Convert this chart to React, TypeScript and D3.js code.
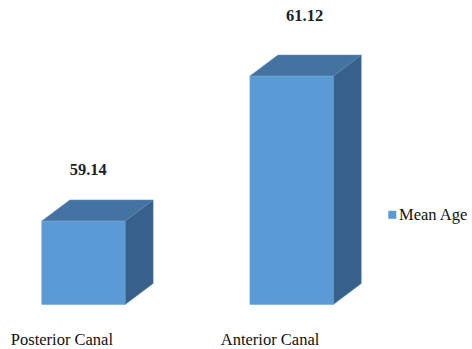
import React from "react";
import * as d3 from "d3";

const categories = ["Posterior Canal", "Anterior Canal"];
const meanAge = [59.14, 61.12];
const seriesName = "Mean Age";

const W = 472;
const H = 349;
const DEPTH_X = 28;
const DEPTH_Y = 21;

export default function App() {
  const x = d3
    .scaleBand<string>()
    .domain(categories)
    .range([21, 354])
    .paddingInner(0.6)
    .paddingOuter(0.1);

  // value axis starts at 58, as in the original 3D column chart
  const y = d3.scaleLinear().domain([58, 62]).range([304.5, 11.7]);

  const front = "#5B9BD5";
  const top = "#4473A2";
  const side = "#37618A";
  const font = "Liberation Serif, Times New Roman, serif";

  return (
    <svg
      width={W}
      height={H}
      style={{ position: "absolute", left: 0, top: 0, background: "#fff" }}
    >
      {categories.map((c, i) => {
        const x0 = x(c)!;
        const bw = x.bandwidth();
        const y0 = y(meanAge[i]);
        const yb = y.range()[0];
        const h = yb - y0;
        const topPath = d3.path();
        topPath.moveTo(x0, y0);
        topPath.lineTo(x0 + DEPTH_X, y0 - DEPTH_Y);
        topPath.lineTo(x0 + bw + DEPTH_X, y0 - DEPTH_Y);
        topPath.lineTo(x0 + bw, y0);
        topPath.closePath();
        const sidePath = d3.path();
        sidePath.moveTo(x0 + bw, y0);
        sidePath.lineTo(x0 + bw + DEPTH_X, y0 - DEPTH_Y);
        sidePath.lineTo(x0 + bw + DEPTH_X, yb - DEPTH_Y);
        sidePath.lineTo(x0 + bw, yb);
        sidePath.closePath();
        // labels lean slightly with the perspective of taller bars
        const lx = x0 + bw / 2 + h * 0.057;
        const ly = y0 - DEPTH_Y - (20 + h * 0.06);
        return (
          <g key={c}>
            <path d={sidePath.toString()} fill={side} stroke="#4a7aa8" strokeWidth={0.6} />
            <path d={topPath.toString()} fill={top} stroke="#5a88b5" strokeWidth={0.6} />
            <rect x={x0} y={y0} width={bw} height={h} fill={front} stroke="#6ea7db" strokeWidth={0.6} />
            <text
              x={lx}
              y={ly}
              textAnchor="middle"
              style={{ fontFamily: font, fontWeight: "bold", fontSize: 16.5 }}
              fill="#1f1f1f"
            >
              {meanAge[i].toFixed(2)}
            </text>
            <text
              x={x0 + bw / 2 - 21.5}
              y={345}
              textAnchor="middle"
              style={{ fontFamily: font, fontSize: 16.5 }}
              fill="#111"
            >
              {c}
            </text>
          </g>
        );
      })}
      <rect x={388.3} y={210.8} width={8} height={8} fill={front} />
      <text x={399} y={220} style={{ fontFamily: font, fontSize: 16.5 }} fill="#111">
        {seriesName}
      </text>
    </svg>
  );
}
